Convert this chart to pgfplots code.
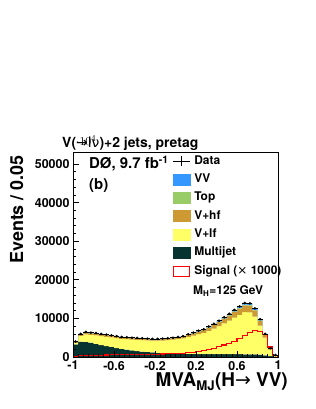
\documentclass[border=0pt]{standalone}
\usepackage{pgfplots}
\pgfplotsset{compat=1.18}
\usepackage{pgfplotstable}
\usepackage{fontspec}
\setmainfont{TeX Gyre Heros}
\newfontfamily\dejavu{DejaVu Sans}
\definecolor{cvv}{HTML}{3399FF}
\definecolor{ctop}{HTML}{99CC66}
\definecolor{chf}{HTML}{CC9933}
\definecolor{clf}{HTML}{FFFF66}
\definecolor{cmj}{HTML}{073331}

\pgfplotstableread{
x mj lf hf top vv
-1.00 3300 350 250 40 60
-0.95 4000 1450 400 60 90
-0.90 3900 1985 450 65 100
-0.85 3700 2000 440 65 95
-0.80 3400 2215 430 60 95
-0.75 3100 2330 420 60 90
-0.70 2800 2440 410 60 90
-0.65 2600 2460 400 55 85
-0.60 2300 2585 380 55 80
-0.55 2100 2595 370 55 80
-0.50 1900 2715 360 50 75
-0.45 1700 2815 360 50 75
-0.40 1550 2915 360 50 75
-0.35 1400 2975 350 50 75
-0.30 1300 2980 350 50 70
-0.25 1200 3030 350 50 70
-0.20 1100 3130 350 50 70
-0.15 1050 3215 360 50 75
-0.10 1000 3350 370 55 75
-0.05 950 3525 390 55 80
0.00 900 3745 410 60 85
0.05 850 3955 440 65 90
0.10 800 4420 500 70 110
0.15 800 4730 560 80 130
0.20 750 5180 630 90 150
0.25 750 5480 700 100 170
0.30 750 6040 800 110 200
0.35 750 6600 900 120 230
0.40 750 7260 1000 130 260
0.45 750 7960 1150 140 300
0.50 750 8670 1300 150 330
0.55 750 9470 1450 160 370
0.60 750 10180 1600 170 400
0.65 700 10940 1750 180 430
0.70 700 10840 1750 180 430
0.75 650 9800 1600 160 390
0.80 600 7530 1250 120 300
0.85 450 4550 750 70 180
0.90 250 1670 280 30 70
0.95 80 337 60 8 15
1.00 80 337 60 8 15
}\mctable

\pgfplotstableread{
x sig
-1.00 0
-1.00 200
-0.95 300
-0.90 350
-0.85 400
-0.80 450
-0.75 500
-0.70 530
-0.65 560
-0.60 600
-0.55 620
-0.50 650
-0.45 680
-0.40 700
-0.35 720
-0.30 730
-0.25 740
-0.20 750
-0.15 770
-0.10 790
-0.05 820
0.00 870
0.05 950
0.10 1050
0.15 1200
0.20 1400
0.25 1650
0.30 1950
0.35 2300
0.40 2700
0.45 3100
0.50 3500
0.55 4000
0.60 4700
0.65 5500
0.70 6300
0.75 6800
0.80 6500
0.85 5800
0.90 2600
0.95 500
1.00 500
1.00 0
}\sigtable

\pgfplotstableread{
x y
-0.975 4000
-0.925 6000
-0.875 6500
-0.825 6300
-0.775 6200
-0.725 6000
-0.675 5800
-0.625 5600
-0.575 5400
-0.525 5200
-0.475 5100
-0.425 5000
-0.375 4950
-0.325 4850
-0.275 4750
-0.225 4700
-0.175 4700
-0.125 4750
-0.075 4850
-0.025 5000
0.025 5200
0.075 5400
0.125 5900
0.175 6300
0.225 6800
0.275 7200
0.325 7900
0.375 8600
0.425 9400
0.475 10300
0.525 11200
0.575 12200
0.625 13100
0.675 14000
0.725 13900
0.775 12600
0.825 9800
0.875 6000
0.925 2300
0.975 500
}\datatable

\begin{document}
\begin{tikzpicture}
\useasboundingbox (0,0) rectangle (316bp,409bp);
\begin{axis}[
  at={(73bp,52bp)}, anchor=south west,
  width=205bp, height=205bp, scale only axis,
  xmin=-1, xmax=1, ymin=0, ymax=53100,
  axis on top,
  axis line style={line width=0.8bp},
  tick style={line width=0.6bp, black},
  tick align=inside,
  xtick pos=bottom, ytick pos=left,
  major tick length=6bp, minor tick length=3bp,
  xtick={-1,-0.6,-0.2,0.2,0.6,1},
  xticklabels={-1,-0.6,-0.2,0.2,0.6,1},
  minor x tick num=7,
  ytick={0,10000,20000,30000,40000,50000},
  yticklabels={0,10000,20000,30000,40000,50000},
  minor y tick num=4,
  tick label style={font=\bfseries\fontsize{12.5}{14}\selectfont},
  xticklabel style={yshift=-0.5bp},
  legend cell align=left,
  legend style={at={(axis description cs:0.4863,0.985)}, anchor=north west,
    draw=none, fill=none, inner sep=0pt, outer sep=0pt,
    row sep=6.33bp,
    font=\bfseries\fontsize{12}{14}\selectfont,
    nodes={inner sep=0pt, text height=9bp, text depth=3bp},
    /tikz/every odd column/.style={column sep=4bp}},
]
\addlegendimage{legend image code/.code={\draw[black,line width=0.6bp] (0bp,0bp)--(17bp,0bp); \draw[black,line width=0.6bp] (8.5bp,-5bp)--(8.5bp,5bp);}}
\addlegendentry{Data}
\addlegendimage{legend image code/.code={\fill[cvv] (0bp,-5.5bp) rectangle (17bp,5.5bp);}}
\addlegendentry{VV}
\addlegendimage{legend image code/.code={\fill[ctop] (0bp,-5.5bp) rectangle (17bp,5.5bp);}}
\addlegendentry{Top}
\addlegendimage{legend image code/.code={\fill[chf] (0bp,-5.5bp) rectangle (17bp,5.5bp);}}
\addlegendentry{V+hf}
\addlegendimage{legend image code/.code={\fill[clf] (0bp,-5.5bp) rectangle (17bp,5.5bp);}}
\addlegendentry{V+lf}
\addlegendimage{legend image code/.code={\fill[cmj] (0bp,-5.5bp) rectangle (17bp,5.5bp);}}
\addlegendentry{Multijet}
\addlegendimage{legend image code/.code={\draw[red,line width=1bp] (0.5bp,-5bp) rectangle (16.5bp,5bp);}}
\addlegendentry{Signal ({\dejavu\mdseries ×} 1000)}

\addplot[stack plots=y, const plot, fill=cmj, draw=none, forget plot] table[x=x,y=mj] {\mctable} \closedcycle;
\addplot[stack plots=y, const plot, fill=clf, draw=none, forget plot] table[x=x,y=lf] {\mctable} \closedcycle;
\addplot[stack plots=y, const plot, fill=chf, draw=none, forget plot] table[x=x,y=hf] {\mctable} \closedcycle;
\addplot[stack plots=y, const plot, fill=ctop, draw=none, forget plot] table[x=x,y=top] {\mctable} \closedcycle;
\addplot[stack plots=y, const plot, fill=cvv, draw=none, forget plot] table[x=x,y=vv] {\mctable} \closedcycle;

\addplot[const plot, red, line width=1.1bp, forget plot] table[x=x,y=sig] {\sigtable};

\addplot[only marks, mark=*, mark size=1.1bp, black, forget plot,
  error bars/.cd, x dir=both, x fixed=0.025, error mark=none,
  error bar style={line width=0.5bp}] table[x=x,y=y] {\datatable};
\end{axis}

\node[anchor=base west, font=\bfseries\fontsize{14}{16}\selectfont, inner sep=0pt] at (62bp,261.3bp) {V({\dejavu\mdseries →lν})+2 jets, pretag};
\node[anchor=base west, font=\bfseries\fontsize{15}{17}\selectfont, inner sep=0pt] at (89bp,240.7bp) {DØ, 9.7 fb\textsuperscript{-1}};
\node[anchor=base west, font=\bfseries\fontsize{15}{17}\selectfont, inner sep=0pt] at (89bp,219bp) {(b)};
\node[anchor=base west, font=\bfseries\fontsize{12}{14}\selectfont, inner sep=0pt] at (193bp,114bp) {M\textsubscript{H}=125 GeV};
\node[anchor=base east, font=\bfseries\fontsize{19}{21}\selectfont, inner sep=0pt] at (288bp,22.3bp) {MVA\textsubscript{MJ}(H{\dejavu\mdseries →} VV)};
\node[anchor=base east, rotate=90, font=\bfseries\fontsize{18}{20}\selectfont, inner sep=0pt] at (23bp,254bp) {Events / 0.05};
\end{tikzpicture}
\end{document}
